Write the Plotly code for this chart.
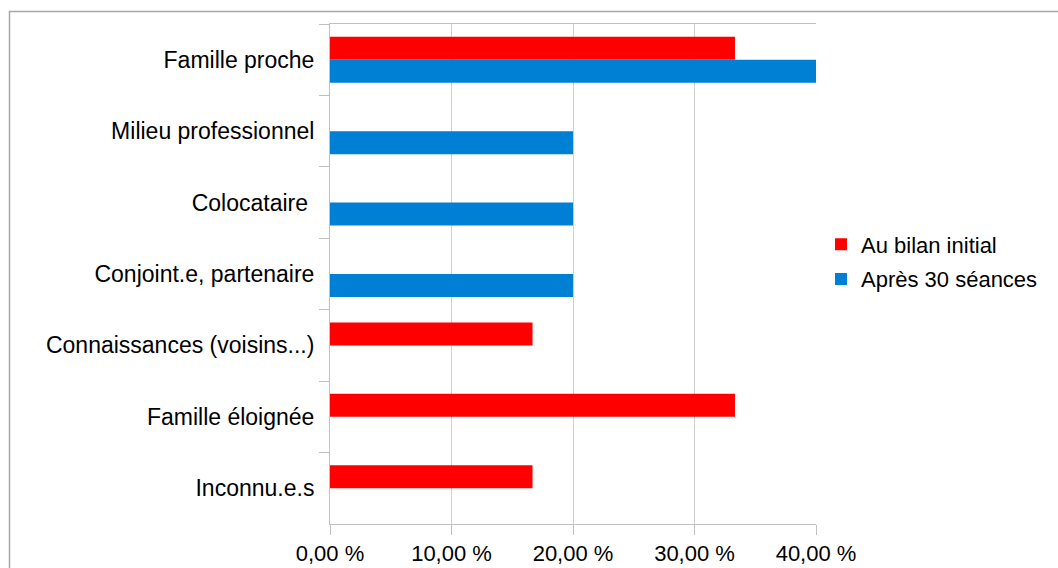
import plotly.graph_objects as go

categories = ["Famille proche", "Milieu professionnel", "Colocataire ", "Conjoint.e, partenaire",
              "Connaissances (voisins...)", "Famille éloignée", "Inconnu.e.s"]
initial = [33.33, None, None, None, 16.67, 33.33, 16.67]
apres = [40.0, 20.0, 20.0, 20.0, None, None, None]
series_names = ["Au bilan initial", "Après 30 séances"]
x_ticks = [0, 10, 20, 30, 40]
x_tick_labels = ["0,00 %", "10,00 %", "20,00 %", "30,00 %", "40,00 %"]

FONT = "Liberation Sans, Arial, sans-serif"
fig = go.Figure()
fig.add_trace(go.Bar(y=categories, x=initial, orientation="h", name=series_names[0],
                     legendgroup="a", marker=dict(color="#ff0000", line=dict(width=0))))
fig.add_trace(go.Bar(y=categories, x=apres, orientation="h", name=series_names[1],
                     legendgroup="b", marker=dict(color="#0080d4", line=dict(width=0))))

W, H = 1058, 568
L, R, T, B = 330, 816, 24, 524
pw, ph = R - L, B - T

def px_x(x):
    return (x - L) / pw

def px_y(y):
    return (B - y) / ph

fig.update_layout(
    width=W, height=H,
    margin=dict(l=L, r=W - R, t=T, b=H - B, pad=0, autoexpand=False),
    paper_bgcolor="white", plot_bgcolor="white",
    barmode="group", bargap=0.356, bargroupgap=0,
    font=dict(family=FONT, size=22, color="black"),
    showlegend=True,
    legend=dict(x=px_x(821), y=px_y(262), xanchor="left", yanchor="middle",
                font=dict(size=22), bgcolor="rgba(0,0,0,0)", tracegroupgap=3,
                traceorder="grouped", itemwidth=30),
    xaxis=dict(range=[0, 40], tickvals=x_ticks, ticktext=x_tick_labels,
               showgrid=True, gridcolor="#d0d0d0", gridwidth=1,
               showline=True, linecolor="#c0c0c0", linewidth=1, mirror=True,
               ticks="outside", ticklen=10, tickcolor="#c0c0c0",
               ticklabelstandoff=0, automargin=False,
               zeroline=False, fixedrange=True),
    yaxis=dict(autorange="reversed", type="category", tickson="boundaries",
               ticks="outside", ticklen=10, tickcolor="#c0c0c0",
               showline=True, linecolor="#c0c0c0", linewidth=1,
               tickfont=dict(size=23), automargin=False,
               showgrid=False, zeroline=False, ticklabelstandoff=10),
    shapes=[dict(type="rect", xref="paper", yref="paper",
                 x0=px_x(9.5), x1=px_x(1065), y0=px_y(600), y1=px_y(11.5),
                 line=dict(color="#a8a8a8", width=1.5), fillcolor="rgba(0,0,0,0)", layer="below")],
)

fig.write_html("out.html")
